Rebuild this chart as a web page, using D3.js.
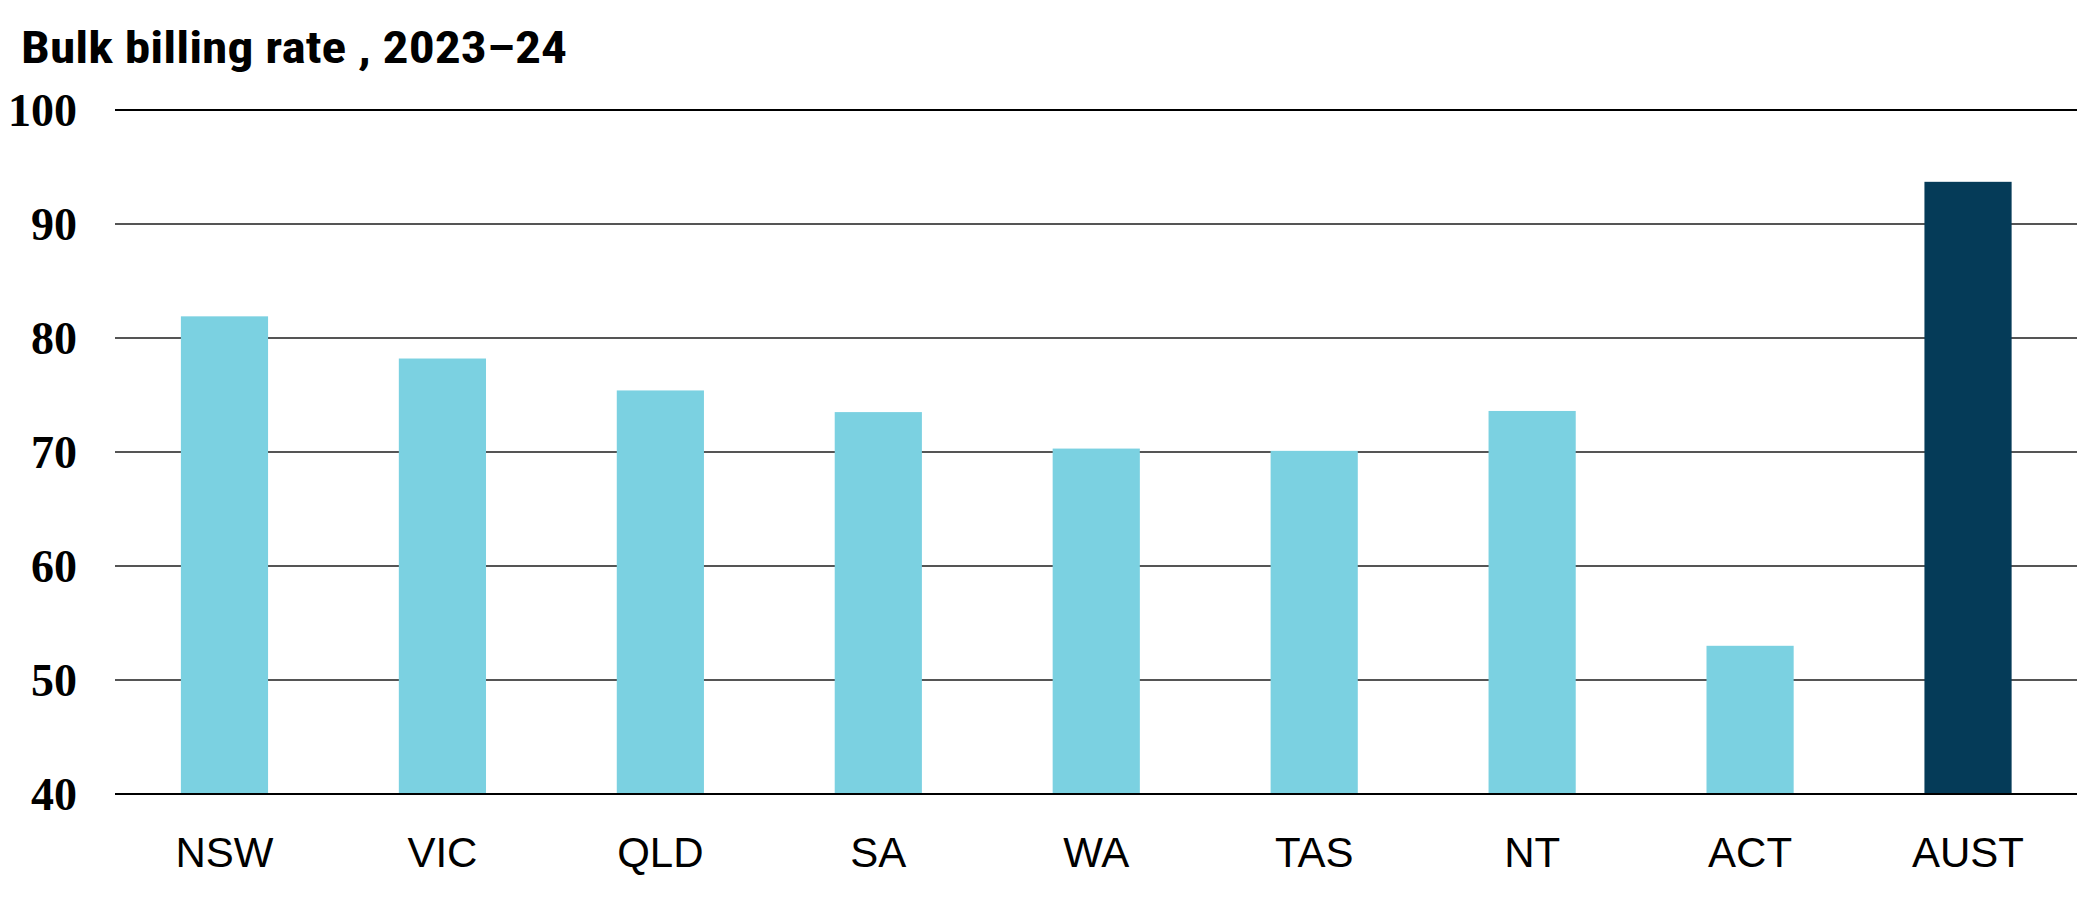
<!DOCTYPE html>
<html>
<head>
<meta charset="utf-8">
<script src="https://cdn.jsdelivr.net/npm/d3@7"></script>
<style>
  html, body { margin: 0; padding: 0; background: #fff; }
  svg { display: block; }
</style>
</head>
<body>
<div id="chart"></div>
<script>
const categories = ["NSW", "VIC", "QLD", "SA", "WA", "TAS", "NT", "ACT", "AUST"];
const rates = [81.9, 78.2, 75.4, 73.5, 70.3, 70.1, 73.6, 53.0, 93.7];
const yTicks = [40, 50, 60, 70, 80, 90, 100];
const titleText = "Bulk billing rate , 2023\u201324";

const width = 2077;
const height = 911;

const svg = d3.select("#chart").append("svg")
    .attr("width", width)
    .attr("height", height);

const x = d3.scaleBand()
    .domain(categories)
    .range([115.5, 2077])
    .paddingInner(0.6)
    .paddingOuter(0.3);

const y = d3.scaleLinear()
    .domain([40, 100])
    .range([794, 110]);

// gridlines
svg.append("g")
    .selectAll("line")
    .data(yTicks)
    .enter()
    .append("line")
    .attr("x1", 115)
    .attr("x2", width)
    .attr("y1", d => y(d))
    .attr("y2", d => y(d))
    .attr("stroke", d => (d === 40 || d === 100) ? "#000" : "#555")
    .attr("stroke-width", 2);

// bars
svg.append("g")
    .selectAll("rect")
    .data(categories)
    .enter()
    .append("rect")
    .attr("x", d => x(d))
    .attr("width", x.bandwidth())
    .attr("y", (d, i) => y(rates[i]))
    .attr("height", (d, i) => y(40) - y(rates[i]))
    .attr("fill", d => d === "AUST" ? "#053B58" : "#7BD1E1");

// redraw the baseline over the bars
svg.append("line")
    .attr("x1", 115)
    .attr("x2", width)
    .attr("y1", y(40))
    .attr("y2", y(40))
    .attr("stroke", "#000")
    .attr("stroke-width", 2);

// y tick labels
svg.append("g")
    .selectAll("text")
    .data(yTicks)
    .enter()
    .append("text")
    .attr("x", 77)
    .attr("y", d => y(d))
    .attr("dy", "0.35em")
    .attr("text-anchor", "end")
    .attr("font-family", "'Liberation Serif', 'Times New Roman', serif")
    .attr("font-weight", "bold")
    .attr("font-size", 46)
    .attr("fill", "#000")
    .text(d => d);

// x labels
svg.append("g")
    .selectAll("text")
    .data(categories)
    .enter()
    .append("text")
    .attr("x", d => x(d) + x.bandwidth() / 2)
    .attr("y", 867)
    .attr("text-anchor", "middle")
    .attr("font-family", "'Liberation Sans', Arial, sans-serif")
    .attr("font-size", 42)
    .attr("fill", "#000")
    .text(d => d);

// title
svg.append("text")
    .attr("x", 21)
    .attr("y", 63)
    .attr("font-family", "'Liberation Sans Narrow', 'Roboto Condensed', 'DejaVu Sans Condensed', 'Liberation Sans', sans-serif")
    .attr("font-weight", "bold")
    .attr("font-size", 44)
    .attr("textLength", 546)
    .attr("lengthAdjust", "spacingAndGlyphs")
    .attr("fill", "#000")
    .text(titleText);
</script>
</body>
</html>
